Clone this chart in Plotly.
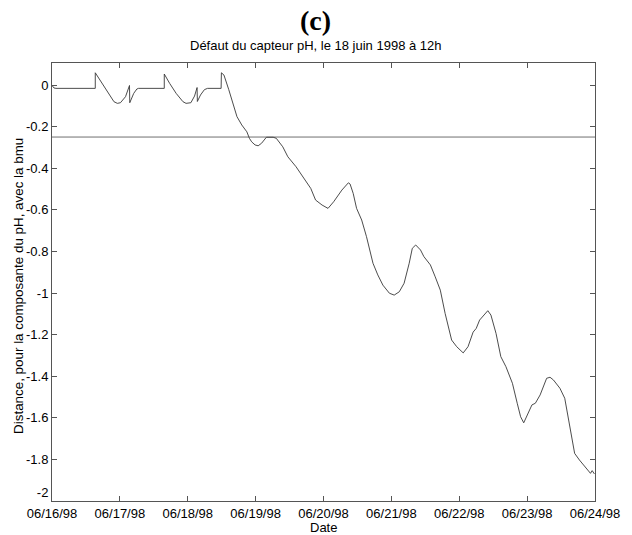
import pandas as pd
import plotly.graph_objects as go

# Distance of the pH component to the best matching unit (bmu)
start = pd.Timestamp("1998-06-16 00:00")
hours = [
    0, 0.7, 1.4, 15.3, 15.3, 17.8, 20.2, 21.9, 23.1, 24.2, 26.0, 27.4, 27.5,
    28.9, 30.0, 30.6, 39.7, 39.7, 41.6, 43.9, 46.3, 47.4, 49.1, 50.4, 51.3,
    51.4, 52.5, 53.9, 55.0, 59.8, 59.9, 60.8, 62.5, 64.2, 65.4, 67.1, 68.9,
    69.8, 70.6, 71.8, 72.9, 74.1, 75.8, 78.2, 79.3, 81.6, 83.4, 86.3, 89.7,
    91.5, 93.2, 95.5, 97.6, 99.6, 102.5, 104.8, 105.4, 106.5, 107.7, 109.5,
    111.2, 112.3, 113.5, 115.2, 117.0, 119.3, 121.0, 122.8, 124.5, 126.3,
    127.4, 128.6, 130.3, 131.5, 133.8, 135.5, 137.3, 139.0, 141.3, 143.1,
    145.4, 147.1, 148.9, 150.0, 151.2, 154.1, 155.2, 157.0, 158.7, 160.5,
    162.8, 164.5, 165.7, 166.8, 168.0, 169.7, 170.9, 172.6, 174.9, 176.1,
    177.3, 179.6, 181.3, 183.1, 184.8, 186.5, 188.3, 190.4, 191.0, 191.8,
]
distance = [
    -0.002, -0.014, -0.016, -0.016, 0.059, 0.008, -0.040, -0.080, -0.088,
    -0.085, -0.056, -0.002, -0.085, -0.040, -0.019, -0.016, -0.016, 0.053,
    0.008, -0.040, -0.080, -0.088, -0.085, -0.053, -0.012, -0.079, -0.048,
    -0.022, -0.016, -0.016, 0.059, 0.048, -0.022, -0.096, -0.152, -0.192,
    -0.225, -0.256, -0.273, -0.288, -0.292, -0.280, -0.251, -0.251, -0.256,
    -0.297, -0.345, -0.393, -0.457, -0.497, -0.553, -0.577, -0.593, -0.561,
    -0.505, -0.470, -0.476, -0.521, -0.593, -0.649, -0.729, -0.793, -0.857,
    -0.913, -0.962, -1.001, -1.010, -0.994, -0.953, -0.857, -0.785, -0.769,
    -0.793, -0.825, -0.865, -0.922, -0.986, -1.098, -1.226, -1.258, -1.288,
    -1.258, -1.188, -1.170, -1.130, -1.085, -1.106, -1.194, -1.306, -1.354,
    -1.434, -1.530, -1.595, -1.624, -1.587, -1.538, -1.530, -1.490, -1.410,
    -1.405, -1.418, -1.458, -1.506, -1.643, -1.771, -1.803, -1.835, -1.867,
    -1.854, -1.870,
]
threshold = -0.25

x_tick_dates = ["1998-06-16", "1998-06-17", "1998-06-18", "1998-06-19",
                "1998-06-20", "1998-06-21", "1998-06-22", "1998-06-23",
                "1998-06-24"]
x_tick_text = ["06/16/98", "06/17/98", "06/18/98", "06/19/98", "06/20/98",
               "06/21/98", "06/22/98", "06/23/98", "06/24/98"]
y_tick_vals = [0, -0.2, -0.4, -0.6, -0.8, -1, -1.2, -1.4, -1.6, -1.8, -2]
# the bottom label is lifted half a line so it clears the first date label
y_tick_text = ["0", "-0.2", "-0.4", "-0.6", "-0.8", "-1", "-1.2", "-1.4",
               "-1.6", "-1.8", "-2<br> "]

times = start + pd.to_timedelta(hours, unit="h")

font = "Liberation Sans, Arial, sans-serif"
axis_color = "#555555"

fig = go.Figure()
fig.add_trace(go.Scatter(
    x=[x_tick_dates[0], x_tick_dates[-1]], y=[threshold, threshold],
    mode="lines", line=dict(color="#707070", width=1), hoverinfo="skip",
))
fig.add_trace(go.Scatter(
    x=times, y=distance, mode="lines",
    line=dict(color="#383838", width=0.9),
))

fig.update_layout(
    width=632, height=535,
    margin=dict(l=52, r=28, t=63, b=34),
    paper_bgcolor="white", plot_bgcolor="white",
    showlegend=False,
    font=dict(family=font, size=13, color="black"),
    annotations=[
        dict(text="<b>(c)</b>", xref="paper", yref="paper", x=0.486, y=1.096,
             xanchor="center", yanchor="middle", showarrow=False,
             font=dict(family="Liberation Serif, Times New Roman, serif",
                       size=28, color="black")),
        dict(text="Défaut du capteur pH, le 18 juin 1998 à 12h",
             xref="paper", yref="paper", x=0.4855, y=1.039,
             xanchor="center", yanchor="middle", showarrow=False,
             font=dict(family=font, size=13, color="black")),
        dict(text="Date", xref="paper", yref="paper", x=0.5, y=-0.06,
             xanchor="center", yanchor="middle", showarrow=False,
             font=dict(family=font, size=13, color="black")),
        dict(text="Distance, pour la composante du pH, avec la bmu",
             xref="paper", yref="paper", x=-0.0616, y=0.49, textangle=-90,
             xanchor="center", yanchor="middle", showarrow=False,
             font=dict(family=font, size=13.4, color="black")),
    ],
)
fig.update_xaxes(
    type="date", range=[x_tick_dates[0], x_tick_dates[-1]],
    tickmode="array", tickvals=x_tick_dates, ticktext=x_tick_text,
    ticks="inside", ticklen=5, tickcolor=axis_color,
    showline=True, linecolor=axis_color, linewidth=1, mirror="ticks",
    showgrid=False, zeroline=False,
)
fig.update_yaxes(
    range=[-2, 0.106],
    tickmode="array", tickvals=y_tick_vals, ticktext=y_tick_text,
    ticks="inside", ticklen=5, tickcolor=axis_color,
    showline=True, linecolor=axis_color, linewidth=1, mirror="ticks",
    showgrid=False, zeroline=False,
)

fig.write_html("out.html")
